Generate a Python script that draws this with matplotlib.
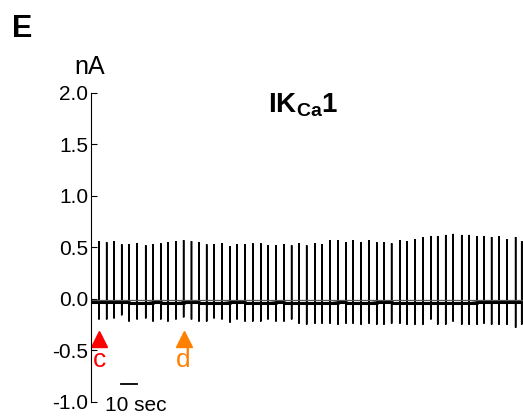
import numpy as np
import matplotlib
matplotlib.use('Agg')
import matplotlib.pyplot as plt

plt.rcParams['font.family'] = ['Liberation Sans', 'DejaVu Sans']
plt.rcParams['mathtext.fontset'] = 'custom'
plt.rcParams['mathtext.rm'] = 'Liberation Sans'
plt.rcParams['mathtext.bf'] = 'Liberation Sans:bold'

# spike times (sec), peak and trough current (nA)
spike_t = [0, 5.0, 9.8, 14.4, 19.2, 23.8, 28.8, 34.2, 38.8, 43.6,
           48.1, 53.1, 57.9, 62.8, 67.5, 72.3, 76.9, 81.9, 86.9, 91.3,
           96.3, 101.1, 106.1, 110.6, 115.6, 120.6, 125.4, 130.0, 134.8, 140.0,
           144.4, 149.4, 154.4, 159.4, 163.8, 168.8, 173.8, 178.6, 183.1, 187.9,
           193.1, 197.5, 202.5, 207.5, 212.5, 216.7, 221.7, 226.3, 231.7, 236.3,
           241.3, 245.6, 250.4, 255.0, 260.0, 265.4, 269.2]
peaks = [0.56, 0.56, 0.55, 0.56, 0.53, 0.53, 0.54, 0.52, 0.53, 0.54,
         0.55, 0.56, 0.57, 0.56, 0.55, 0.53, 0.53, 0.54, 0.51, 0.53,
         0.53, 0.54, 0.54, 0.52, 0.52, 0.53, 0.52, 0.54, 0.52, 0.54,
         0.53, 0.57, 0.57, 0.55, 0.57, 0.55, 0.57, 0.55, 0.55, 0.54,
         0.57, 0.56, 0.58, 0.60, 0.61, 0.61, 0.62, 0.63, 0.62, 0.62,
         0.61, 0.61, 0.60, 0.61, 0.58, 0.60, 0.56]
troughs = [-0.22, -0.20, -0.20, -0.19, -0.16, -0.22, -0.20, -0.19, -0.22, -0.20,
           -0.22, -0.20, -0.18, -0.20, -0.22, -0.22, -0.19, -0.20, -0.23, -0.20,
           -0.22, -0.22, -0.22, -0.20, -0.22, -0.22, -0.20, -0.24, -0.25, -0.24,
           -0.24, -0.24, -0.25, -0.24, -0.24, -0.25, -0.24, -0.25, -0.25, -0.24,
           -0.24, -0.25, -0.25, -0.25, -0.20, -0.25, -0.25, -0.22, -0.25, -0.25,
           -0.25, -0.24, -0.25, -0.25, -0.25, -0.28, -0.25]
base = [-0.03, -0.03, -0.03, -0.03, -0.03, -0.04, -0.04, -0.04, -0.03, -0.04,
        -0.04, -0.04, -0.03, -0.03, -0.04, -0.04, -0.04, -0.04, -0.03, -0.03,
        -0.04, -0.04, -0.04, -0.04, -0.03, -0.04, -0.04, -0.04, -0.04, -0.04,
        -0.04, -0.04, -0.03, -0.04, -0.04, -0.04, -0.04, -0.03, -0.03, -0.04,
        -0.04, -0.04, -0.04, -0.04, -0.04, -0.04, -0.04, -0.04, -0.04, -0.04,
        -0.03, -0.03, -0.03, -0.03, -0.03, -0.03, -0.03]

yticks = [2.0, 1.5, 1.0, 0.5, 0.0, -0.5, -1.0]
ylabels = ['2.0', '1.5', '1.0', '0.5', '0.0', '-0.5', '-1.0']

marks_t = [spike_t[1], spike_t[12]]
marks_lbl = ['c', 'd']
marks_col = ['#ff0000', '#ff8000']

fig = plt.figure(figsize=(5.23, 4.16), dpi=100)
ax = fig.add_axes([0.174, 0.034, 0.826, 0.743])

# build trace: each spike is a vertical excursion from baseline
xs, ys = [], []
for t, p, tr, b in zip(spike_t, peaks, troughs, base):
    xs += [t, t, t, t]
    ys += [b, p, tr, b]
xs.append(275)
ys.append(base[-1])
ax.plot(xs, ys, color='black', lw=1.1, solid_joinstyle='miter')
ax.plot(spike_t + [275], base + [base[-1]], color='black', lw=2.2, drawstyle='steps-post')
ax.axhline(-0.01, color='#555555', lw=0.9)

for t, l, c in zip(marks_t, marks_lbl, marks_col):
    ax.plot(t, -0.39, marker='^', ms=12, color=c, clip_on=False)
    ax.text(t, -0.59, l, color=c, fontsize=19, ha='center', va='center')

# scale bar
ax.plot([18.5, 28.5], [-0.83, -0.83], color='black', lw=1.3)
ax.text(28, -1.04, '10 sec', fontsize=15, ha='center', va='center', clip_on=False)

ax.set_xlim(0, 270)
ax.set_ylim(-1.0, 2.0)
ax.set_yticks(yticks)
ax.set_yticklabels(ylabels)
ax.tick_params(axis='y', direction='in', length=4, labelsize=15, pad=2)
ax.set_xticks([])
for s in ['top', 'right', 'bottom']:
    ax.spines[s].set_visible(False)

fig.text(0.172, 0.84, 'nA', fontsize=18, ha='center', va='center')
fig.text(0.043, 0.93, 'E', fontsize=22, fontweight='bold', ha='center', va='center')
ax.text(0.49, 0.96, r'$\mathbf{IK_{Ca}1}$', transform=ax.transAxes, fontsize=20,
        ha='center', va='center')

fig.savefig('out.png', dpi=100)
